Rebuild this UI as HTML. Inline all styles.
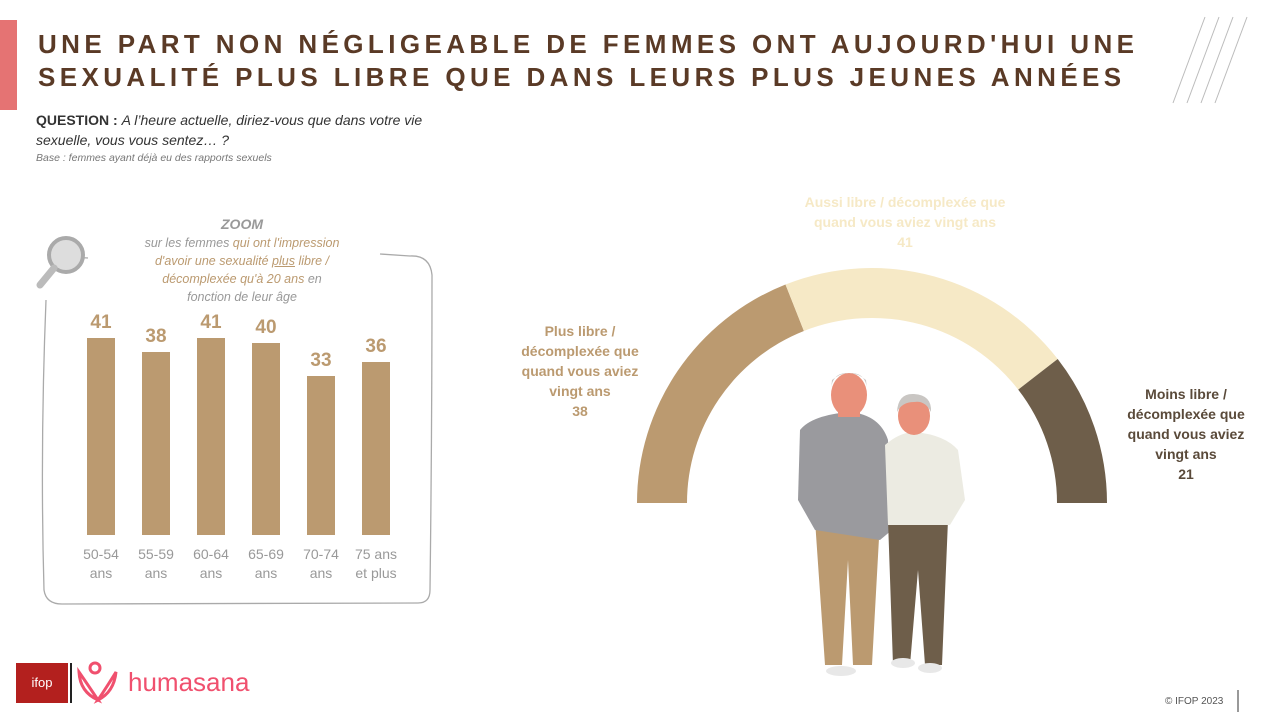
<!DOCTYPE html>
<html><head><meta charset="utf-8"><style>
body{margin:0;width:1274px;height:713px;background:#fff;position:relative;overflow:hidden;font-family:"Liberation Sans","DejaVu Sans",sans-serif}
.a{position:absolute}
.t{left:38px;top:28px;font-size:26px;font-weight:bold;letter-spacing:4.4px;color:#5a3a26;line-height:33px;white-space:nowrap}
.c{text-align:center}
</style></head><body>
<div class="a" style="left:0;top:20px;width:17px;height:90px;background:#e57373"></div>
<div class="a t">UNE PART NON NÉGLIGEABLE DE FEMMES ONT AUJOURD'HUI UNE<br>SEXUALITÉ PLUS LIBRE QUE DANS LEURS PLUS JEUNES ANNÉES</div>
<svg class="a" style="left:1165px;top:15px" width="90" height="95"><g stroke="#bbb" stroke-width="1"><line x1="8" y1="88" x2="40" y2="2"/><line x1="22" y1="88" x2="54" y2="2"/><line x1="36" y1="88" x2="68" y2="2"/><line x1="50" y1="88" x2="82" y2="2"/></g></svg>
<div class="a" style="left:36px;top:110px;font-size:14px;line-height:20px;color:#333"><b>QUESTION :</b> <i>A l’heure actuelle, diriez-vous que dans votre vie<br>sexuelle, vous vous sentez… ?</i></div>
<div class="a" style="left:36px;top:152px;font-size:10.5px;color:#777;font-style:italic">Base : femmes ayant déjà eu des rapports sexuels</div>

<svg class="a" style="left:0;top:0" width="640" height="713">
<path d="M88 258 Q55 255 48 275 M46 300 Q40 450 44 590 Q46 604 62 604 L418 603 Q430 603 430 590 Q432 430 432 275 Q430 255 410 256 L380 254" fill="none" stroke="#aaa" stroke-width="1.3"/>
<circle cx="66" cy="255" r="17" fill="#ddd" stroke="#aaa" stroke-width="4"/>
<line x1="54" y1="268" x2="40" y2="285" stroke="#bbb" stroke-width="7" stroke-linecap="round"/>
<g fill="#bb9a70">
<rect x="87" y="338" width="28" height="197"/><rect x="142" y="352" width="28" height="183"/><rect x="197" y="338" width="28" height="197"/><rect x="252" y="343" width="28" height="192"/><rect x="307" y="376" width="28" height="159"/><rect x="362" y="362" width="28" height="173"/>
</g>
<g font-size="19" font-weight="bold" fill="#bb9a70" text-anchor="middle">
<text x="101" y="328">41</text><text x="156" y="342">38</text><text x="211" y="328">41</text><text x="266" y="333">40</text><text x="321" y="366">33</text><text x="376" y="352">36</text>
</g>
<g font-size="14" fill="#999" text-anchor="middle">
<text x="101" y="559">50-54</text><text x="101" y="578">ans</text><text x="156" y="559">55-59</text><text x="156" y="578">ans</text><text x="211" y="559">60-64</text><text x="211" y="578">ans</text><text x="266" y="559">65-69</text><text x="266" y="578">ans</text><text x="321" y="559">70-74</text><text x="321" y="578">ans</text><text x="376" y="559">75 ans</text><text x="376" y="578">et plus</text>
</g>
</svg>
<div class="a c" style="left:102px;top:215px;width:280px;font-size:12.5px;line-height:18px;color:#999;font-style:italic;white-space:nowrap"><b style="font-size:14px">ZOOM</b><br>sur les femmes <span style="color:#bb9a70">qui ont l'impression<br>d'avoir une sexualité <u>plus</u> libre /<br>décomplexée qu'à 20 ans</span> en<br>fonction de leur âge</div>

<svg class="a" style="left:0;top:0" width="1274" height="713">
<path d="M637 503 A235 235 0 0 1 785.5 284.5 L803.9 331 A185 185 0 0 0 687 503 Z" fill="#bb9a70"/>
<path d="M785.5 284.5 A235 235 0 0 1 1057.7 359 L1018.2 389.6 A185 185 0 0 0 803.9 331 Z" fill="#f6e9c6"/>
<path d="M1057.7 359 A235 235 0 0 1 1107 503 L1057 503 A185 185 0 0 0 1018.2 389.6 Z" fill="#6e5e4a"/>
<path d="M815 520 L880 520 L872 665 L853 665 L848 560 L842 665 L825 665 Z" fill="#bb9a70"/>
<path d="M800 430 Q812 415 850 412 Q880 415 888 440 L892 530 L880 540 L815 530 L798 500 Z" fill="#9a9a9e"/>
<rect x="838" y="395" width="22" height="22" fill="#e9907a"/>
<ellipse cx="849" cy="395" rx="18" ry="22" fill="#e9907a"/>
<path d="M831 390 Q832 372 849 373 Q866 372 867 390 L866 380 Q849 366 832 380 Z" fill="#c9c6c3"/>
<path d="M888 520 L948 520 L942 665 L925 665 L918 570 L910 665 L893 665 Z" fill="#6e5e4a"/>
<path d="M885 445 Q900 432 915 432 Q945 435 958 450 L965 500 L950 525 L888 525 Z" fill="#ecebe2"/>
<ellipse cx="914" cy="416" rx="16" ry="19" fill="#e9907a"/>
<path d="M897 412 Q898 393 914 394 Q932 395 931 412 Q925 400 914 402 Q902 402 897 412Z" fill="#c9c6c3"/>
<ellipse cx="841" cy="671" rx="15" ry="5" fill="#e8e8e8"/><ellipse cx="903" cy="663" rx="12" ry="5" fill="#e8e8e8"/><ellipse cx="930" cy="668" rx="12" ry="5" fill="#e8e8e8"/>
<line x1="1238" y1="690" x2="1238" y2="712" stroke="#333" stroke-width="1"/>
</svg>
<div class="a c" style="left:765px;top:192px;width:280px;font-size:14px;line-height:20px;color:#f6e9c6;font-weight:bold">Aussi libre / décomplexée que<br>quand vous aviez vingt ans<br>41</div>
<div class="a c" style="left:500px;top:321px;width:160px;font-size:14px;line-height:20px;color:#bb9a70;font-weight:bold">Plus libre /<br>décomplexée que<br>quand vous aviez<br>vingt ans<br>38</div>
<div class="a c" style="left:1106px;top:384px;width:160px;font-size:14px;line-height:20px;color:#5a4a3a;font-weight:bold">Moins libre /<br>décomplexée que<br>quand vous aviez<br>vingt ans<br>21</div>

<div class="a" style="left:16px;top:663px;width:52px;height:40px;background:#b3201e;color:#fff;font-size:13px;text-align:center;line-height:40px">ifop</div>
<div class="a" style="left:70px;top:663px;width:2px;height:40px;background:#222"></div>
<svg class="a" style="left:76px;top:660px" width="45" height="45"><g fill="none" stroke="#f0506e" stroke-width="3"><circle cx="19" cy="8" r="5"/><path d="M3 12 Q4 32 22 40 Q12 25 3 12Z"/><path d="M40 12 Q38 32 22 40 Q32 25 40 12Z"/></g></svg>
<div class="a" style="left:128px;top:667px;font-size:26px;color:#f0506e">humasana</div>
<div class="a" style="left:1165px;top:696px;font-size:10px;color:#555">© IFOP 2023</div>
</body></html>
